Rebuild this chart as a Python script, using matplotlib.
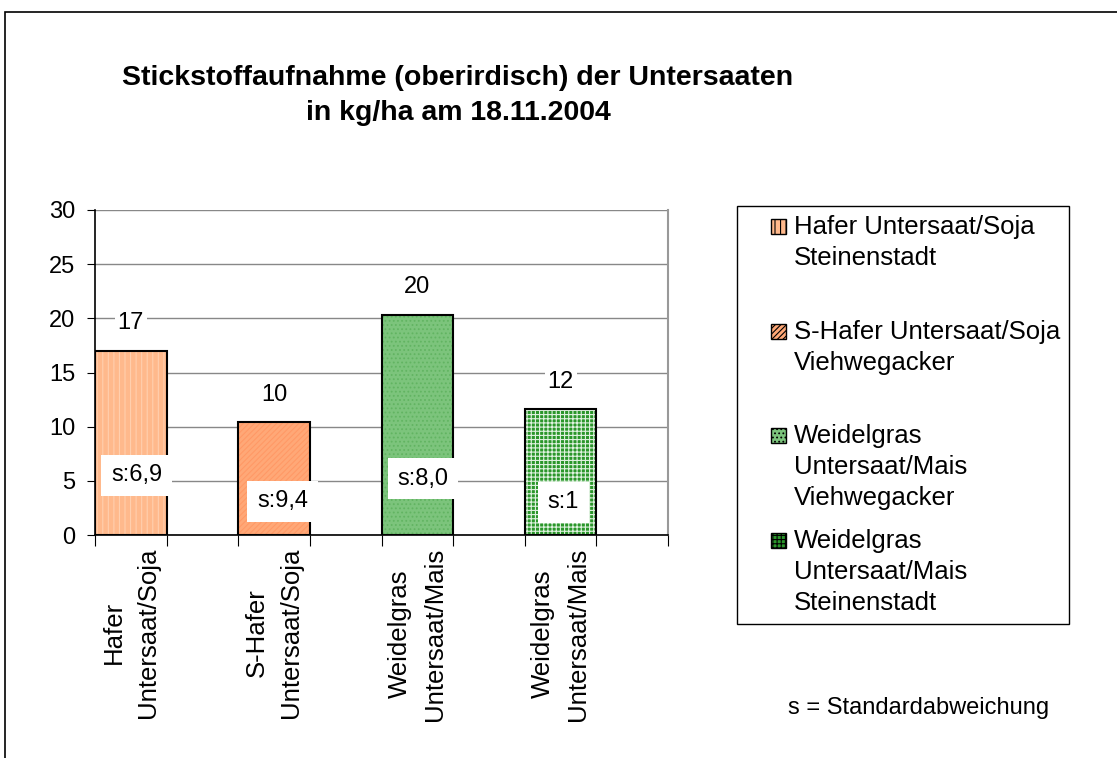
import matplotlib
matplotlib.use("Agg")
import matplotlib.pyplot as plt
from matplotlib.patches import Patch, Rectangle
from matplotlib.legend_handler import HandlerPatch

# values
categories = ["Hafer\nUntersaat/Soja", "S-Hafer\nUntersaat/Soja",
              "Weidelgras\nUntersaat/Mais", "Weidelgras\nUntersaat/Mais"]
values = [17.0, 10.4, 20.3, 11.6]
value_labels = ["17", "10", "20", "12"]
sd_labels = ["s:6,9", "s:9,4", "s:8,0", "s:1"]
sd_y = [5.5, 3.1, 5.2, 3.0]
sd_dx = [0.08, 0.12, 0.08, 0.04]
legend_labels = ["Hafer Untersaat/Soja\nSteinenstadt\n",
                 "S-Hafer Untersaat/Soja\nViehwegacker\n",
                 "Weidelgras\nUntersaat/Mais\nViehwegacker",
                 "Weidelgras\nUntersaat/Mais\nSteinenstadt"]
face = ["#FFB98C", "#FFA877", "#7CC47C", "#2A962A"]
hatch_col = ["#FFCFAE", "#FF9966", "#62B462", "#E0F2E0"]
hatches = ["|||", "//////", "....", "++++"]

plt.rcParams['font.family'] = ['Liberation Sans', 'DejaVu Sans']
plt.rcParams['hatch.linewidth'] = 0.8

fig = plt.figure(figsize=(11.17, 7.58), dpi=100)
ax = fig.add_axes([95/1117, 1-535/758, (668-95)/1117, (535-210)/758])

xpos = [2*i + 0.5 for i in range(len(values))]
for i in range(len(values)):
    ax.bar(xpos[i], values[i], width=1.0, color=face[i], hatch=hatches[i],
           edgecolor=hatch_col[i], linewidth=0, zorder=2)
    ax.bar(xpos[i], values[i], width=1.0, fill=False, edgecolor="black",
           linewidth=1.5, zorder=3)
    ax.annotate(value_labels[i], (xpos[i], values[i]), xytext=(0, 20),
                textcoords="offset points", ha="center", va="center",
                fontsize=17, zorder=5,
                bbox=dict(facecolor="white", edgecolor="none", pad=2))
    ax.text(xpos[i] + sd_dx[i], sd_y[i], sd_labels[i], ha="center", va="center",
            fontsize=17, zorder=5,
            bbox=dict(facecolor="white", edgecolor="none", pad=7))

ax.set_xlim(0, 8)
ax.set_ylim(0, 30)
ax.set_yticks(range(0, 31, 5))
ax.tick_params(axis="y", labelsize=17, length=6, direction="out", pad=8)
ax.set_xticks(range(0, 9))
ax.set_xticklabels([])
ax.tick_params(axis="x", which="major", length=8, direction="out")
ax.set_xticks(xpos, minor=True)
ax.set_xticklabels(categories, minor=True, rotation=90, fontsize=18.5,
                   ha="center", va="top", multialignment="center",
                   linespacing=1.55)
ax.tick_params(axis="x", which="minor", length=0, pad=9)
ax.grid(axis="y", color="#888888", linewidth=1, zorder=0)
ax.set_axisbelow(True)
ax.spines["top"].set_visible(False)
ax.spines["right"].set_color("#999999")
ax.spines["right"].set_linewidth(1.5)
ax.spines["left"].set_linewidth(1.2)
ax.spines["bottom"].set_linewidth(1.2)

# legend: small square next to the first line of each label
LEG_FS = 18.5
LINE_PT = 23.0


def top_square(nlines):
    def make(legend, orig_handle, xdescent, ydescent, width, height, fontsize):
        s = 11.0
        y = -ydescent + (height - s) / 2 + (nlines - 1) / 2 * LINE_PT
        return Rectangle((-xdescent + width - s, y), s, s)
    return HandlerPatch(patch_func=make)


handles = [Patch(facecolor=face[i], edgecolor="black", hatch=hatches[i], linewidth=1)
           for i in range(len(values))]
hmap = {handles[i]: top_square(legend_labels[i].count("\n") + 1)
        for i in range(len(values))}
leg = fig.legend(handles, legend_labels, loc="upper left", handler_map=hmap,
                 bbox_to_anchor=(737/1117, 1-206/758), fontsize=LEG_FS,
                 frameon=True, fancybox=False, framealpha=1, edgecolor="black",
                 handlelength=1.55, handleheight=0.7, handletextpad=0.3,
                 labelspacing=0.72, borderpad=0.35, borderaxespad=0)
leg.get_frame().set_linewidth(1)
for t in leg.get_texts():
    t.set_linespacing(1.37)

fig.text(458/1117, 1-78/758, "Stickstoffaufnahme (oberirdisch) der Untersaaten",
         ha="center", va="center", fontsize=20.5, fontweight="bold")
fig.text(458/1117, 1-113/758, "in kg/ha am 18.11.2004",
         ha="center", va="center", fontsize=20.5, fontweight="bold")
fig.text(919/1117, 1-708/758, "s = Standardabweichung", ha="center", va="center",
         fontsize=17)

fig.add_artist(Rectangle((5/1117, -0.1), 1.2, 1.1 - 12/758, fill=False,
                         edgecolor="black", linewidth=1.2,
                         transform=fig.transFigure, clip_on=False))

fig.savefig("out.png", dpi=100)
